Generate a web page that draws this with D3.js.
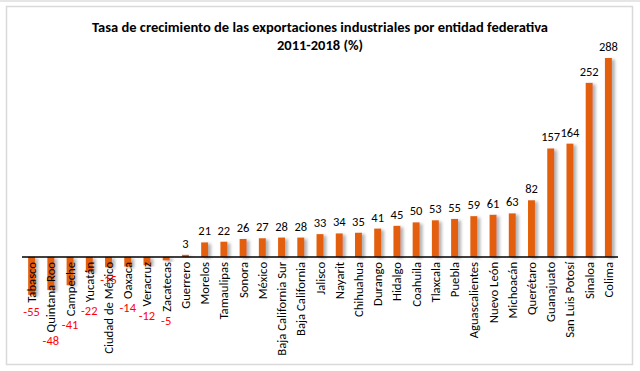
<!DOCTYPE html>
<html>
<head>
<meta charset="utf-8">
<script src="https://cdn.jsdelivr.net/npm/d3@7"></script>
<style>
  body { margin: 0; background: #fff; }
  svg { display: block; }
</style>
</head>
<body>
<svg id="chart" width="640" height="371"></svg>
<script>
// entidades federativas, ordenadas de menor a mayor
var estados = ["Tabasco", "Quintana Roo", "Campeche", "Yucatán", "Ciudad de México", "Oaxaca",
  "Veracruz", "Zacatecas", "Guerrero", "Morelos", "Tamaulipas", "Sonora", "México",
  "Baja California Sur", "Baja California", "Jalisco", "Nayarit", "Chihuahua", "Durango",
  "Hidalgo", "Coahuila", "Tlaxcala", "Puebla", "Aguascalientes", "Nuevo León", "Michoacán",
  "Querétaro", "Guanajuato", "San Luis Potosí", "Sinaloa", "Colima"];
// tasa de crecimiento 2011-2018 (%)
var tasas = [-55, -48, -41, -22, -15, -14, -12, -5, 3, 21, 22, 26, 27, 28, 28, 33, 34, 35, 41,
  45, 50, 53, 55, 59, 61, 63, 82, 157, 164, 252, 288];
var titulo = ["Tasa de crecimiento de las exportaciones industriales por entidad federativa",
  "2011-2018 (%)"];

var fuente = "Carlito, 'Liberation Sans Narrow', 'DejaVu Sans Condensed', sans-serif";
var naranja = "#e35f07";

var svg = d3.select("#chart");

// marco
svg.append("line").attr("x1", 0).attr("x2", 640).attr("y1", 1).attr("y2", 1)
  .attr("stroke", "#e6e6e6").attr("stroke-width", 2);
svg.append("rect").attr("x", 6.5).attr("y", 6.5).attr("width", 626).attr("height", 358)
  .attr("fill", "#fff").attr("stroke", "#d9d9d9").attr("stroke-width", 1.5);

var defs = svg.append("defs");
var sombra = defs.append("filter").attr("id", "sombra")
  .attr("x", "-50%").attr("y", "-20%").attr("width", "250%").attr("height", "140%");
sombra.append("feDropShadow").attr("dx", 3).attr("dy", 1.5).attr("stdDeviation", 1.4)
  .attr("flood-color", "#777").attr("flood-opacity", 0.55);

var x = d3.scaleBand().domain(estados).range([22, 618]).paddingInner(0.64).paddingOuter(0.32);
var y = d3.scaleLinear().domain([-100, 300]).range([326, 49.7]);

// titulo
svg.append("g").selectAll("text").data(titulo).join("text")
  .attr("x", 320).attr("y", function(d, i) { return 32 + i * 18; })
  .attr("text-anchor", "middle")
  .attr("font-family", fuente).attr("font-weight", "bold").attr("font-size", "14.5px")
  .attr("fill", "#000").text(function(d) { return d; });

var datos = estados.map(function(e, i) { return {estado: e, tasa: tasas[i]}; });

// barras
svg.append("g").selectAll("rect").data(datos).join("rect")
  .attr("x", function(d) { return x(d.estado); })
  .attr("width", x.bandwidth())
  .attr("y", function(d) { return y(Math.max(0, d.tasa)); })
  .attr("height", function(d) { return Math.abs(y(d.tasa) - y(0)); })
  .attr("fill", naranja)
  .attr("filter", "url(#sombra)");

// eje
svg.append("line").attr("x1", 22).attr("x2", 618).attr("y1", y(0)).attr("y2", y(0))
  .attr("stroke", "#000").attr("stroke-width", 1.5);

// nombres de los estados
var nombres = svg.append("g").selectAll("text").data(datos).join("text")
  .attr("transform", function(d) {
    return "translate(" + (x(d.estado) + x.bandwidth() / 2 + 4.5) + "," + (y(0) + 5) + ") rotate(-90)";
  })
  .attr("text-anchor", "end")
  .attr("font-family", fuente).attr("font-size", "12.7px").attr("fill", "#000")
  .text(function(d) { return d.estado; });

var largos = [];
nombres.each(function(d, i) { largos[i] = this.getComputedTextLength(); });

// etiquetas de valor
svg.append("g").selectAll("text").data(datos).join("text")
  .attr("x", function(d) { return x(d.estado) + x.bandwidth() / 2; })
  .attr("y", function(d, i) {
    if (d.tasa >= 0) return y(d.tasa) - 7;
    var bajoNombre = y(0) + 5 + largos[i] + 13;
    if (bajoNombre > 352) return y(d.tasa) + 17;
    return bajoNombre;
  })
  .attr("text-anchor", "middle")
  .attr("font-family", fuente).attr("font-size", "12.5px")
  .attr("fill", function(d) { return d.tasa < 0 ? "#ff0000" : "#000"; })
  .text(function(d) { return d.tasa; });
</script>
</body>
</html>
